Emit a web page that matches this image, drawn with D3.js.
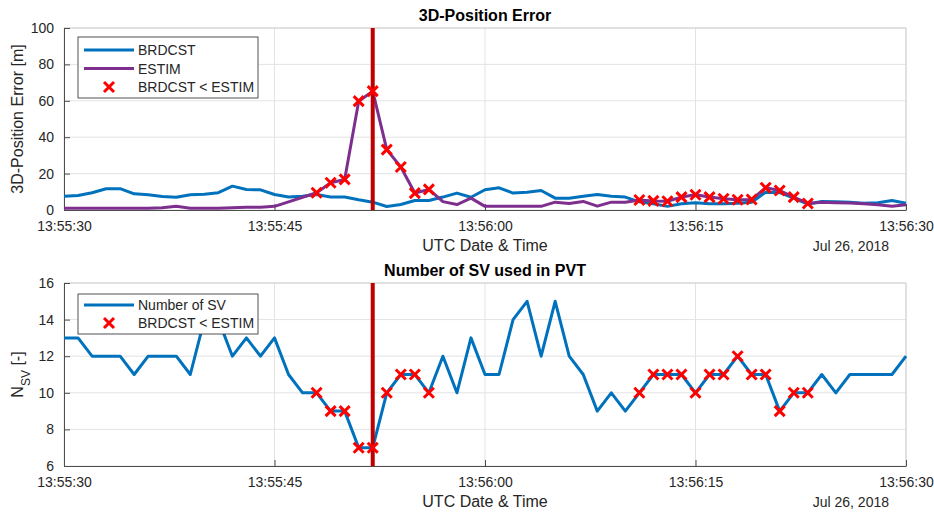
<!DOCTYPE html>
<html>
<head>
<meta charset="utf-8">
<script src="https://cdn.jsdelivr.net/npm/d3@7"></script>
<style>
  body { margin: 0; background: #fff; }
  svg { display: block; font-family: "Liberation Sans", Arial, sans-serif; }
</style>
</head>
<body>
<svg id="chart" width="934" height="513"></svg>
<script>
// ---------------- DATA ----------------
const startTime = "2018-07-26T13:55:30Z";
const endTime = "2018-07-26T13:56:30Z";
const eventTime = "2018-07-26T13:55:52Z";
const sampleSeconds = [0,1,2,3,4,5,6,7,8,9,10,11,12,13,14,15,16,17,18,19,20,
  21,22,23,24,25,26,27,28,29,30,31,32,33,34,35,36,37,38,39,40,
  41,42,43,44,45,46,47,48,49,50,51,52,53,54,55,56,57,58,59,60];
const brdcst = [7.6,8,9.5,11.7,11.7,8.9,8.4,7.4,7,8.4,8.6,9.5,13.1,11.3,11.1,8.5,7.1,7.6,8.5,7.1,7.1,
  5.6,4.3,1.9,3,5.2,5.2,7.1,9.3,7,11.1,12.2,9.3,9.8,10.7,6.5,6.5,7.6,8.5,7.6,7.1,
  4.5,3.4,2,3.4,4,3.4,3.4,3.7,4.3,9.8,9.5,6.5,3.3,4.7,4.5,4.3,3.7,4,5.2,3.7];
const estim = [1,1,1,1,1,1,1,1.2,2,1,1,1,1.2,1.5,1.5,2,4.5,7,9.5,15,16.8,
  59.8,65.3,33.2,23.6,9.3,11.3,4.6,3,6.5,2,2,2,2,2,4.3,3.6,4.7,2.1,4.3,4.3,
  5.5,5,4.8,7.1,8.4,7.1,6.2,5.6,5.8,12.2,10.7,7.1,3.6,4.3,4,3.8,3.4,2.9,2,2.9];
const numSV = [13,13,12,12,12,11,12,12,12,11,14,14,12,13,12,13,11,10,10,9,9,
  7,7,10,11,11,10,12,10,13,11,11,14,15,12,15,12,11,9,10,9,
  10,11,11,11,10,11,11,12,11,11,9,10,10,11,10,11,11,11,11,12];
const xTickLabels = ["13:55:30","13:55:45","13:56:00","13:56:15","13:56:30"];
const yTicksTop = [0,20,40,60,80,100];
const yTicksBottom = [6,8,10,12,14,16];
const dateLabel = "Jul 26, 2018";

// ---------------- SETUP ----------------
const svg = d3.select("#chart");
const t0 = new Date(startTime);
const times = sampleSeconds.map(s => new Date(t0.getTime() + s * 1000));
const xTickDates = xTickLabels.map(l => new Date("2018-07-26T" + l + "Z"));
const fmt = d3.utcFormat("%H:%M:%S");

const C = { blue: "#0072BD", purple: "#7E2F8E", red: "#FF0000", dark: "#C00000",
  axis: "#4d4d4d", grid: "#e3e3e3", text: "#262626" };

const left = 64, right = 906;
const x = d3.scaleUtc().domain([t0, new Date(endTime)]).range([left, right]);

function drawAxes(top, bottom, y, yTicks, title, ylabelFn) {
  const g = svg.append("g");
  g.append("g").selectAll("line").data(yTicks).join("line")
    .attr("x1", left).attr("x2", right)
    .attr("y1", d => y(d)).attr("y2", d => y(d))
    .attr("stroke", C.grid).attr("stroke-width", 1);
  g.append("g").selectAll("line").data(xTickDates).join("line")
    .attr("x1", d => x(d)).attr("x2", d => x(d))
    .attr("y1", top).attr("y2", bottom)
    .attr("stroke", C.grid).attr("stroke-width", 1);
  g.append("line").attr("x1", left).attr("x2", right).attr("y1", top).attr("y2", top)
    .attr("stroke", "#d0d0d0");
  g.append("line").attr("x1", right).attr("x2", right).attr("y1", top).attr("y2", bottom)
    .attr("stroke", "#d0d0d0");
  const xa = g.append("g").attr("transform", `translate(0,${bottom})`)
    .call(d3.axisBottom(x).tickValues(xTickDates).tickFormat(fmt).tickSizeInner(-6).tickSizeOuter(0).tickPadding(11));
  const ya = g.append("g").attr("transform", `translate(${left},0)`)
    .call(d3.axisLeft(y).tickValues(yTicks).tickSizeInner(-6).tickSizeOuter(0).tickPadding(10));
  [xa, ya].forEach(a => {
    a.select(".domain").attr("stroke", C.axis);
    a.selectAll(".tick line").attr("stroke", C.axis);
    a.selectAll(".tick text").attr("fill", C.text).style("font-size", "14px")
      .style("font-family", "'Liberation Sans', Arial, sans-serif");
  });
  svg.append("text").attr("x", (left + right) / 2).attr("y", top - 7)
    .attr("text-anchor", "middle").attr("fill", "#000")
    .style("font-size", "16px").style("font-weight", "bold").text(title);
  svg.append("text").attr("x", (left + right) / 2).attr("y", bottom + 41)
    .attr("text-anchor", "middle").attr("fill", C.text)
    .style("font-size", "16px").text("UTC Date & Time");
  svg.append("text").attr("x", right - 17).attr("y", bottom + 41)
    .attr("text-anchor", "end").attr("fill", C.text)
    .style("font-size", "14px").text(dateLabel);
  const yl = svg.append("text")
    .attr("transform", `translate(23,${(top + bottom) / 2}) rotate(-90)`)
    .attr("text-anchor", "middle").attr("fill", C.text).style("font-size", "16px");
  ylabelFn(yl);
  return g;
}

function drawX(sel, data, xf, yf) {
  const s = 5;
  sel.selectAll("path.xm").data(data).join("path").attr("class", "xm")
    .attr("d", d => { const px = xf(d), py = yf(d);
      return `M${px - s},${py - s}L${px + s},${py + s}M${px - s},${py + s}L${px + s},${py - s}`; })
    .attr("stroke", C.red).attr("stroke-width", 3).attr("fill", "none");
}

const markIdx = sampleSeconds.map((s, i) => i).filter(i => brdcst[i] < estim[i]);

// ---------------- TOP CHART ----------------
{
  const top = 28, bottom = 210;
  const y = d3.scaleLinear().domain([0, 100]).range([bottom, top]);
  drawAxes(top, bottom, y, yTicksTop, "3D-Position Error", t => t.text("3D-Position Error [m]"));
  const line = arr => d3.line().x((d, i) => x(times[i])).y(d => y(d))(arr);
  svg.append("path").attr("d", line(brdcst)).attr("fill", "none")
    .attr("stroke", C.blue).attr("stroke-width", 3).attr("stroke-linejoin", "round");
  svg.append("path").attr("d", line(estim)).attr("fill", "none")
    .attr("stroke", C.purple).attr("stroke-width", 3).attr("stroke-linejoin", "round");
  svg.append("line").attr("x1", x(new Date(eventTime))).attr("x2", x(new Date(eventTime)))
    .attr("y1", top).attr("y2", bottom).attr("stroke", C.dark).attr("stroke-width", 4);
  drawX(svg.append("g"), markIdx, i => x(times[i]), i => y(estim[i]));

  const lg = svg.append("g").attr("transform", "translate(78,37)");
  lg.append("rect").attr("width", 180).attr("height", 61).attr("fill", "#fff")
    .attr("stroke", "#262626").attr("stroke-width", 0.8);
  const items = [["BRDCST", "line", C.blue], ["ESTIM", "line", C.purple], ["BRDCST < ESTIM", "x", C.red]];
  items.forEach((it, k) => {
    const cy = 13 + k * 18.5;
    if (it[1] === "line") lg.append("line").attr("x1", 6).attr("x2", 56).attr("y1", cy).attr("y2", cy)
      .attr("stroke", it[2]).attr("stroke-width", 3);
    else drawX(lg.append("g"), [0], () => 31, () => cy);
    lg.append("text").attr("x", 60).attr("y", cy + 5).attr("fill", C.text)
      .style("font-size", "14px").text(it[0]);
  });
}

// ---------------- BOTTOM CHART ----------------
{
  const top = 283, bottom = 466;
  const y = d3.scaleLinear().domain([6, 16]).range([bottom, top]);
  drawAxes(top, bottom, y, yTicksBottom, "Number of SV used in PVT", t => {
    t.append("tspan").text("N");
    t.append("tspan").attr("baseline-shift", "sub").style("font-size", "12px").text("SV");
    t.append("tspan").text(" [-]");
  });
  const line = d3.line().x((d, i) => x(times[i])).y(d => y(d));
  svg.append("path").attr("d", line(numSV)).attr("fill", "none")
    .attr("stroke", C.blue).attr("stroke-width", 3).attr("stroke-linejoin", "round");
  svg.append("line").attr("x1", x(new Date(eventTime))).attr("x2", x(new Date(eventTime)))
    .attr("y1", top).attr("y2", bottom).attr("stroke", C.dark).attr("stroke-width", 4);
  drawX(svg.append("g"), markIdx, i => x(times[i]), i => y(numSV[i]));

  const lg = svg.append("g").attr("transform", "translate(78,294)");
  lg.append("rect").attr("width", 180).attr("height", 40).attr("fill", "#fff")
    .attr("stroke", "#262626").attr("stroke-width", 0.8);
  lg.append("line").attr("x1", 6).attr("x2", 56).attr("y1", 11).attr("y2", 11)
    .attr("stroke", C.blue).attr("stroke-width", 3);
  lg.append("text").attr("x", 60).attr("y", 16).attr("fill", C.text).style("font-size", "14px").text("Number of SV");
  drawX(lg.append("g"), [0], () => 31, () => 29);
  lg.append("text").attr("x", 60).attr("y", 34).attr("fill", C.text).style("font-size", "14px").text("BRDCST < ESTIM");
}
</script>
</body>
</html>
